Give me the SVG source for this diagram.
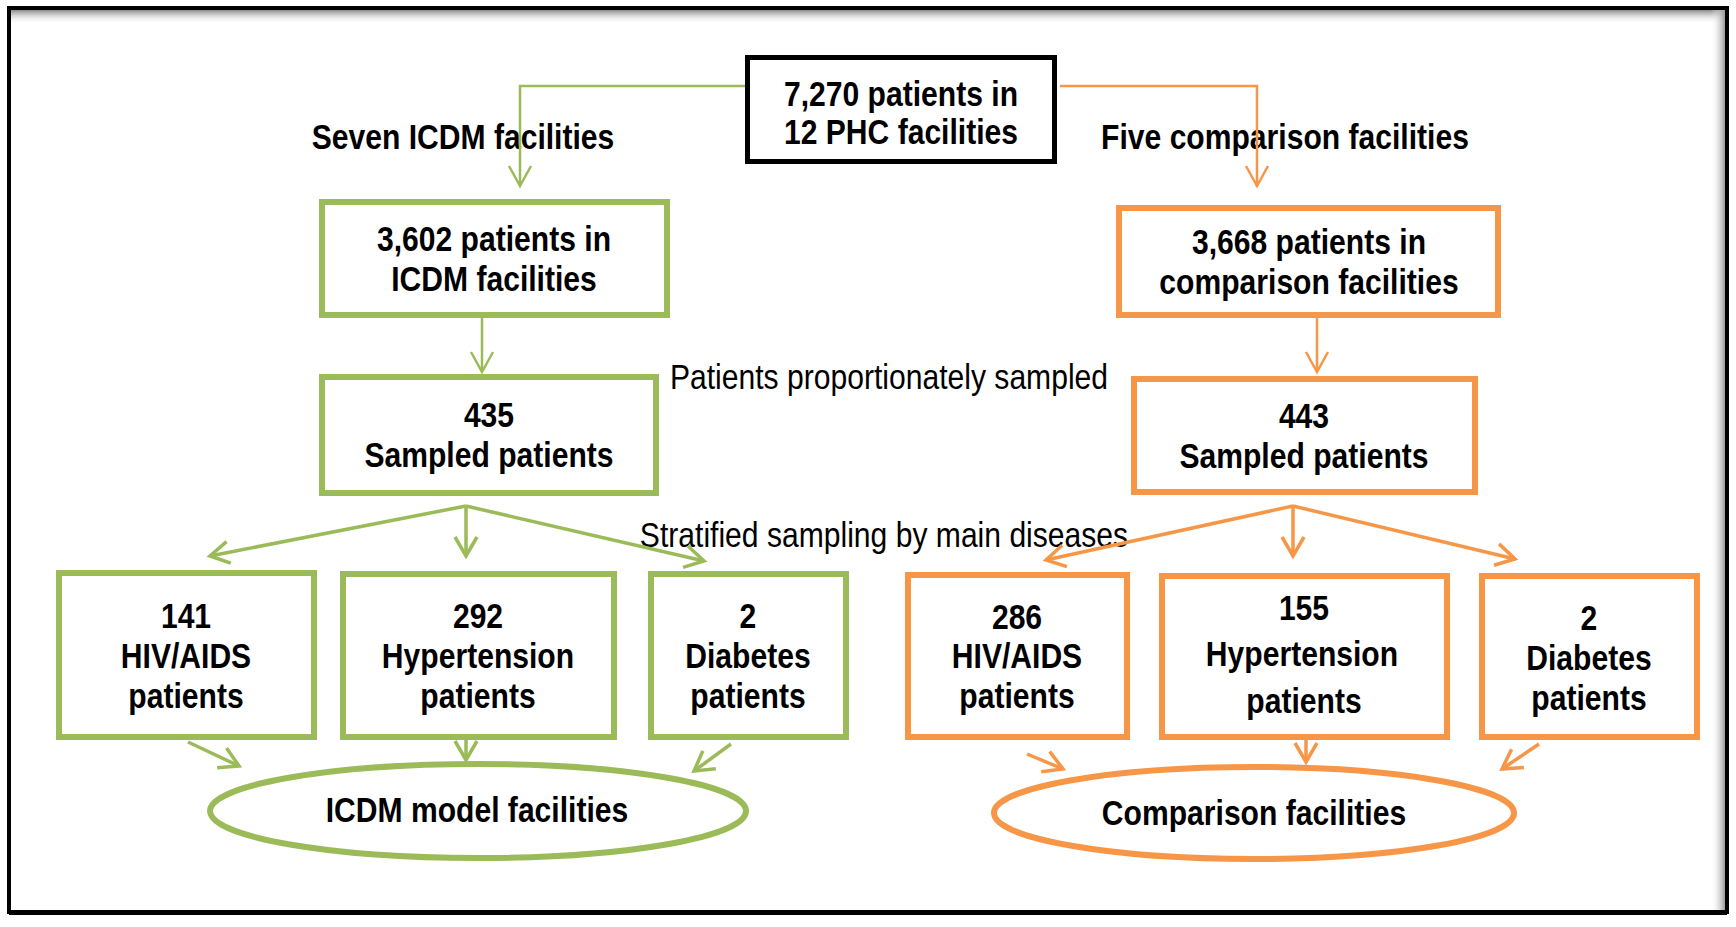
<svg xmlns="http://www.w3.org/2000/svg" width="1736" height="927" viewBox="0 0 1736 927">
  <style>
    text { font-family: "Liberation Sans", Arial, sans-serif; font-size: 35px; fill: #000; text-anchor: middle;
           transform-box: fill-box; transform-origin: center; transform: scaleX(0.86); }
    .b { font-weight: bold; }
    .g { fill: #fff; stroke: #9BBB59; stroke-width: 6; }
    .o { fill: #fff; stroke: #F79646; stroke-width: 6; }
    .k { fill: #fff; stroke: #000; stroke-width: 5; }
    .cg { fill: none; stroke: #9BBB59; }
    .co { fill: none; stroke: #F79646; }
    .thin { stroke-width: 2.5; }
    .mid { stroke-width: 3.5; }
  </style>
  <defs>
    <marker id="ag" viewBox="-24 -14 28 28" refX="0" refY="0" markerWidth="28" markerHeight="28" markerUnits="userSpaceOnUse" orient="auto">
      <path d="M-19,-11 L0,0 L-19,11" fill="none" stroke="#9BBB59" stroke-width="3.5"/>
    </marker>
    <marker id="ao" viewBox="-24 -14 28 28" refX="0" refY="0" markerWidth="28" markerHeight="28" markerUnits="userSpaceOnUse" orient="auto">
      <path d="M-19,-11 L0,0 L-19,11" fill="none" stroke="#F79646" stroke-width="3.5"/>
    </marker>
    <marker id="agt" viewBox="-24 -14 28 28" refX="0" refY="0" markerWidth="28" markerHeight="28" markerUnits="userSpaceOnUse" orient="auto">
      <path d="M-20,-11 L0,0 L-20,11" fill="none" stroke="#9BBB59" stroke-width="2.5"/>
    </marker>
    <marker id="aot" viewBox="-24 -14 28 28" refX="0" refY="0" markerWidth="28" markerHeight="28" markerUnits="userSpaceOnUse" orient="auto">
      <path d="M-20,-11 L0,0 L-20,11" fill="none" stroke="#F79646" stroke-width="2.5"/>
    </marker>
    <linearGradient id="shTop" x1="0" y1="0" x2="0" y2="1">
      <stop offset="0" stop-color="#8a8a8a"/>
      <stop offset="1" stop-color="#fff" stop-opacity="0"/>
    </linearGradient>
    <linearGradient id="shRight" x1="1" y1="0" x2="0" y2="0">
      <stop offset="0" stop-color="#9a9a9a"/>
      <stop offset="1" stop-color="#fff" stop-opacity="0"/>
    </linearGradient>
  </defs>

  <rect width="1736" height="927" fill="#fff"/>

  <!-- outer frame with soft inner shading -->
  <g id="frame">
    <rect x="11" y="10" width="1714" height="14" fill="url(#shTop)"/>
    <rect x="1711" y="10" width="14" height="900" fill="url(#shRight)"/>
    <rect x="9" y="8" width="1718" height="904" fill="none" stroke="#000" stroke-width="4"/>
    <line x1="9" y1="913" x2="1727" y2="913" stroke="#000" stroke-width="4"/>
  </g>

  <!-- free-standing labels -->
  <g id="labels">
    <text class="b" x="463" y="149">Seven ICDM facilities</text>
    <text class="b" x="1285" y="149">Five comparison facilities</text>
    <text x="889" y="389">Patients proportionately sampled</text>
    <text x="884" y="547">Stratified sampling by main diseases</text>
  </g>

  <!-- connectors -->
  <g id="connectors">
    <polyline class="cg thin" points="745,86 520,86 520,186" marker-end="url(#agt)"/>
    <polyline class="co thin" points="1060,86 1257,86 1257,186" marker-end="url(#aot)"/>
    <line class="cg thin" x1="482" y1="318" x2="482" y2="372" marker-end="url(#agt)"/>
    <line class="co thin" x1="1317" y1="318" x2="1317" y2="372" marker-end="url(#aot)"/>

    <line class="cg mid" x1="466" y1="506" x2="210" y2="556" marker-end="url(#ag)"/>
    <line class="cg mid" x1="466" y1="506" x2="466" y2="556" marker-end="url(#ag)"/>
    <line class="cg mid" x1="466" y1="506" x2="704" y2="561" marker-end="url(#ag)"/>
    <line class="co mid" x1="1293" y1="506" x2="1046" y2="560" marker-end="url(#ao)"/>
    <line class="co mid" x1="1293" y1="506" x2="1293" y2="556" marker-end="url(#ao)"/>
    <line class="co mid" x1="1293" y1="506" x2="1515" y2="559" marker-end="url(#ao)"/>

    <line class="cg mid" x1="188" y1="742" x2="239" y2="766" marker-end="url(#ag)"/>
    <line class="cg mid" x1="466" y1="740" x2="466" y2="760" marker-end="url(#ag)"/>
    <line class="cg mid" x1="731" y1="744" x2="694" y2="771" marker-end="url(#ag)"/>
    <line class="co mid" x1="1027" y1="754" x2="1063" y2="769" marker-end="url(#ao)"/>
    <line class="co mid" x1="1306" y1="740" x2="1306" y2="762" marker-end="url(#ao)"/>
    <line class="co mid" x1="1539" y1="744" x2="1502" y2="769" marker-end="url(#ao)"/>
  </g>

  <!-- nodes -->
  <g id="total">
    <rect class="k" x="747.5" y="57.5" width="307" height="104"/>
    <text class="b" x="901" y="106">7,270 patients in</text>
    <text class="b" x="901" y="144">12 PHC facilities</text>
  </g>

  <g id="icdm-patients">
    <rect class="g" x="322" y="202" width="345" height="113"/>
    <text class="b" x="494" y="251">3,602 patients in</text>
    <text class="b" x="494" y="291">ICDM facilities</text>
  </g>
  <g id="comparison-patients">
    <rect class="o" x="1119" y="208" width="379" height="107"/>
    <text class="b" x="1309" y="254">3,668 patients in</text>
    <text class="b" x="1309" y="294">comparison facilities</text>
  </g>

  <g id="icdm-sampled">
    <rect class="g" x="322" y="377" width="334" height="116"/>
    <text class="b" x="489" y="427">435</text>
    <text class="b" x="489" y="467">Sampled patients</text>
  </g>
  <g id="comparison-sampled">
    <rect class="o" x="1134" y="379" width="341" height="113"/>
    <text class="b" x="1304" y="428">443</text>
    <text class="b" x="1304" y="468">Sampled patients</text>
  </g>

  <g id="icdm-hiv">
    <rect class="g" x="59" y="573" width="255" height="164"/>
    <text class="b" x="186" y="628">141</text>
    <text class="b" x="186" y="668">HIV/AIDS</text>
    <text class="b" x="186" y="708">patients</text>
  </g>
  <g id="icdm-hypertension">
    <rect class="g" x="343" y="574" width="271" height="163"/>
    <text class="b" x="478" y="628">292</text>
    <text class="b" x="478" y="668">Hypertension</text>
    <text class="b" x="478" y="708">patients</text>
  </g>
  <g id="icdm-diabetes">
    <rect class="g" x="651" y="574" width="195" height="163"/>
    <text class="b" x="748" y="628">2</text>
    <text class="b" x="748" y="668">Diabetes</text>
    <text class="b" x="748" y="708">patients</text>
  </g>

  <g id="comparison-hiv">
    <rect class="o" x="908" y="575" width="219" height="162"/>
    <text class="b" x="1017" y="629">286</text>
    <text class="b" x="1017" y="668">HIV/AIDS</text>
    <text class="b" x="1017" y="708">patients</text>
  </g>
  <g id="comparison-hypertension">
    <rect class="o" x="1162" y="576" width="285" height="161"/>
    <text class="b" x="1304" y="620">155</text>
    <text class="b" x="1302" y="666">Hypertension</text>
    <text class="b" x="1304" y="713">patients</text>
  </g>
  <g id="comparison-diabetes">
    <rect class="o" x="1482" y="576" width="215" height="161"/>
    <text class="b" x="1589" y="630">2</text>
    <text class="b" x="1589" y="670">Diabetes</text>
    <text class="b" x="1589" y="710">patients</text>
  </g>

  <g id="icdm-model">
    <ellipse class="g" cx="478" cy="811" rx="268" ry="47"/>
    <text class="b" x="477" y="822">ICDM model facilities</text>
  </g>
  <g id="comparison-model">
    <ellipse class="o" cx="1254" cy="813" rx="260" ry="46"/>
    <text class="b" x="1254" y="825">Comparison facilities</text>
  </g>
</svg>
